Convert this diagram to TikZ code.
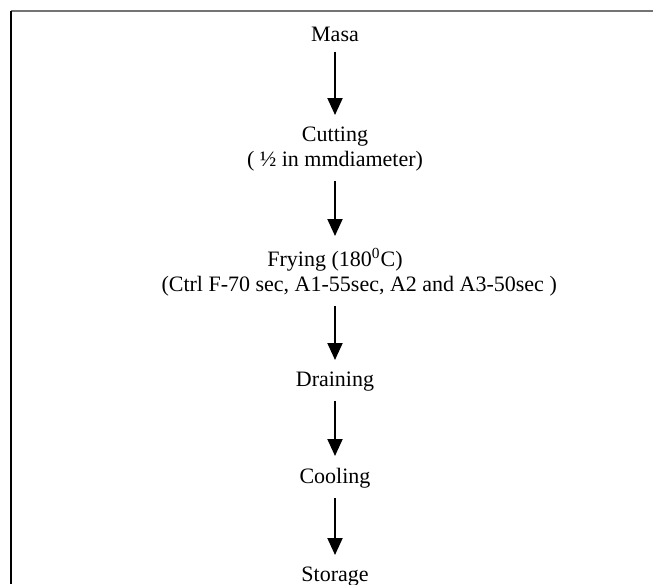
\documentclass[tikz,border=0pt]{standalone}
\usepackage{fontspec}
\setmainfont{Liberation Serif}
\usetikzlibrary{arrows.meta}
\tikzset{
  stage/.style={anchor=north, inner sep=0pt, outer sep=0pt, align=center,
    font=\fontsize{11}{12.5}\selectfont},
  flow/.style={-{Triangle[width=7.5pt, length=8.5pt]}, line width=1pt,
    shorten <=5pt, shorten >=6pt}
}
\begin{document}
\begin{tikzpicture}[x=0.5pt, y=-0.5pt]
    \useasboundingbox (0,0) rectangle (653,584);
    \draw[black!55, line width=1pt] (11,11) -- (653,11);
    \draw[line width=1pt] (11,11) -- (11,584);
    \node[stage] (masa) at (335,27) {Masa};
    \node[stage] (cut) at (335,127) {Cutting\\( ½ in mmdiameter)};
    \node[stage] (fry) at (335,248)
      {Frying (180\textsuperscript{0}C)\\\hspace*{2.2em}(Ctrl F-70 sec, A1-55sec, A2 and A3-50sec )};
    \node[stage] (drain) at (335,372) {Draining};
    \node[stage] (cool) at (335,468) {Cooling};
    \node[stage] (store) at (335,567) {Storage};
    \path[flow]
      (masa) edge (cut)
      (cut) edge (fry)
      (fry) edge (drain)
      (drain) edge (cool)
      (cool) edge (store);
  \end{tikzpicture}
\end{document}
